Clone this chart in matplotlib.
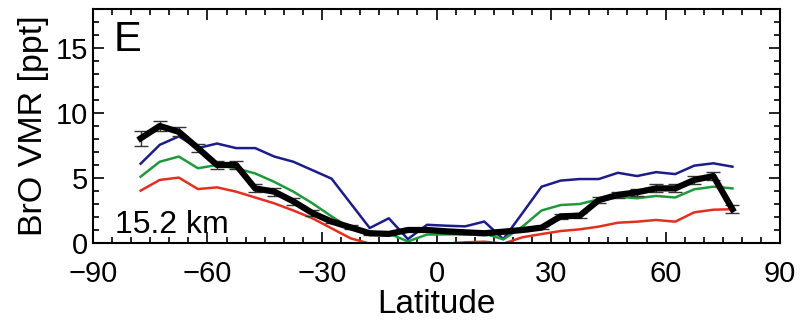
import matplotlib
matplotlib.use("Agg")
import matplotlib.pyplot as plt
import numpy as np
from matplotlib.ticker import MultipleLocator, FuncFormatter

plt.rcParams['font.family'] = ['Liberation Sans', 'DejaVu Sans']

# latitude bin centres
lat = [-77.5, -72.5, -67.5, -62.5, -57.5, -52.5, -47.5, -42.5, -37.5, -32.5,
       -27.5, -22.5, -17.5, -12.5, -7.5, -2.5, 2.5, 7.5, 12.5, 17.5,
       22.5, 27.5, 32.5, 37.5, 42.5, 47.5, 52.5, 57.5, 62.5, 67.5, 72.5, 77.5]

# observed BrO (black, with error bars)
obs = [8.05, 9.0, 8.55, 7.3, 6.0, 6.0, 4.2, 3.95, 3.2, 2.3,
       1.65, 1.2, 0.75, 0.7, 1.0, 1.0, 0.9, 0.82, 0.75, 0.87,
       1.0, 1.18, 2.05, 2.1, 3.3, 3.7, 3.9, 4.2, 4.2, 4.85, 5.15, 2.6]
obs_err = [0.6, 0.4, 0.35, 0.3, 0.3, 0.3, 0.3, 0.3, 0.25, 0.2,
           0.15, 0.15, 0.1, 0.1, 0.1, 0.1, 0.1, 0.1, 0.1, 0.1,
           0.1, 0.1, 0.2, 0.2, 0.25, 0.25, 0.25, 0.3, 0.3, 0.3, 0.3, 0.3]

# model runs
blue = [6.1, 7.55, 8.2, 7.3, 7.65, 7.3, 7.3, 6.65, 6.25, 5.6,
        4.95, 3.05, 1.15, 1.9, 0.3, 1.4, 1.33, 1.28, 1.65, 0.3,
        2.3, 4.33, 4.8, 4.92, 4.92, 5.4, 5.15, 5.45, 5.3, 5.95, 6.13, 5.87]
green = [5.1, 6.25, 6.65, 5.75, 6.0, 5.75, 5.35, 4.7, 3.95, 3.05,
         2.05, 1.1, 0.62, 0.74, 0.12, 0.65, 0.66, 0.67, 0.74, 0.28,
         1.26, 2.5, 2.92, 3.0, 3.36, 3.56, 3.44, 3.62, 3.5, 4.13, 4.33, 4.2]
red = [4.03, 4.85, 5.03, 4.15, 4.28, 3.95, 3.5, 3.05, 2.5, 1.9,
       1.13, 0.36, -0.05, -0.05, -0.05, -0.05, -0.05, 0.05, 0.1, -0.05,
       0.44, 0.69, 0.92, 1.05, 1.26, 1.56, 1.64, 1.77, 1.64, 2.36, 2.56, 2.6]

fig = plt.figure(figsize=(8.01, 3.21), dpi=100)
ax = fig.add_axes([0.116, 0.243, 0.858, 0.729])

ax.plot(lat, blue, color='#1c1c8a', lw=1.8)
ax.plot(lat, green, color='#1f9a3a', lw=1.8)
ax.plot(lat, red, color='#e2301f', lw=1.8)
ax.errorbar(lat, obs, yerr=obs_err, color='black', lw=4.5, ecolor='#333333',
            elinewidth=1.0, capsize=5, capthick=1.0)

ax.set_xlim(-90, 90)
ax.set_ylim(0, 18)
ax.xaxis.set_major_locator(MultipleLocator(30))
ax.xaxis.set_minor_locator(MultipleLocator(5))
ax.yaxis.set_major_locator(MultipleLocator(5))
ax.yaxis.set_minor_locator(MultipleLocator(1))
ax.xaxis.set_major_formatter(FuncFormatter(lambda v, p: f"{int(v)}".replace('-', '\u2212')))
ax.tick_params(which='both', direction='in', top=True, right=True, labelsize=21, width=1.2)
ax.tick_params(which='major', length=8)
ax.tick_params(which='minor', length=4)
ax.tick_params(axis='x', which='major', pad=12)
for s in ax.spines.values():
    s.set_linewidth(1.5)

ax.set_xlabel('Latitude', fontsize=24, labelpad=1)
ax.set_ylabel('BrO VMR [ppt]', fontsize=24.5, labelpad=5)
ax.text(0.03, 0.955, 'E', transform=ax.transAxes, fontsize=30, va='top', ha='left')
ax.text(0.032, 0.043, '15.2 km', transform=ax.transAxes, fontsize=23, va='baseline', ha='left')

fig.savefig('out.png', dpi=100)
